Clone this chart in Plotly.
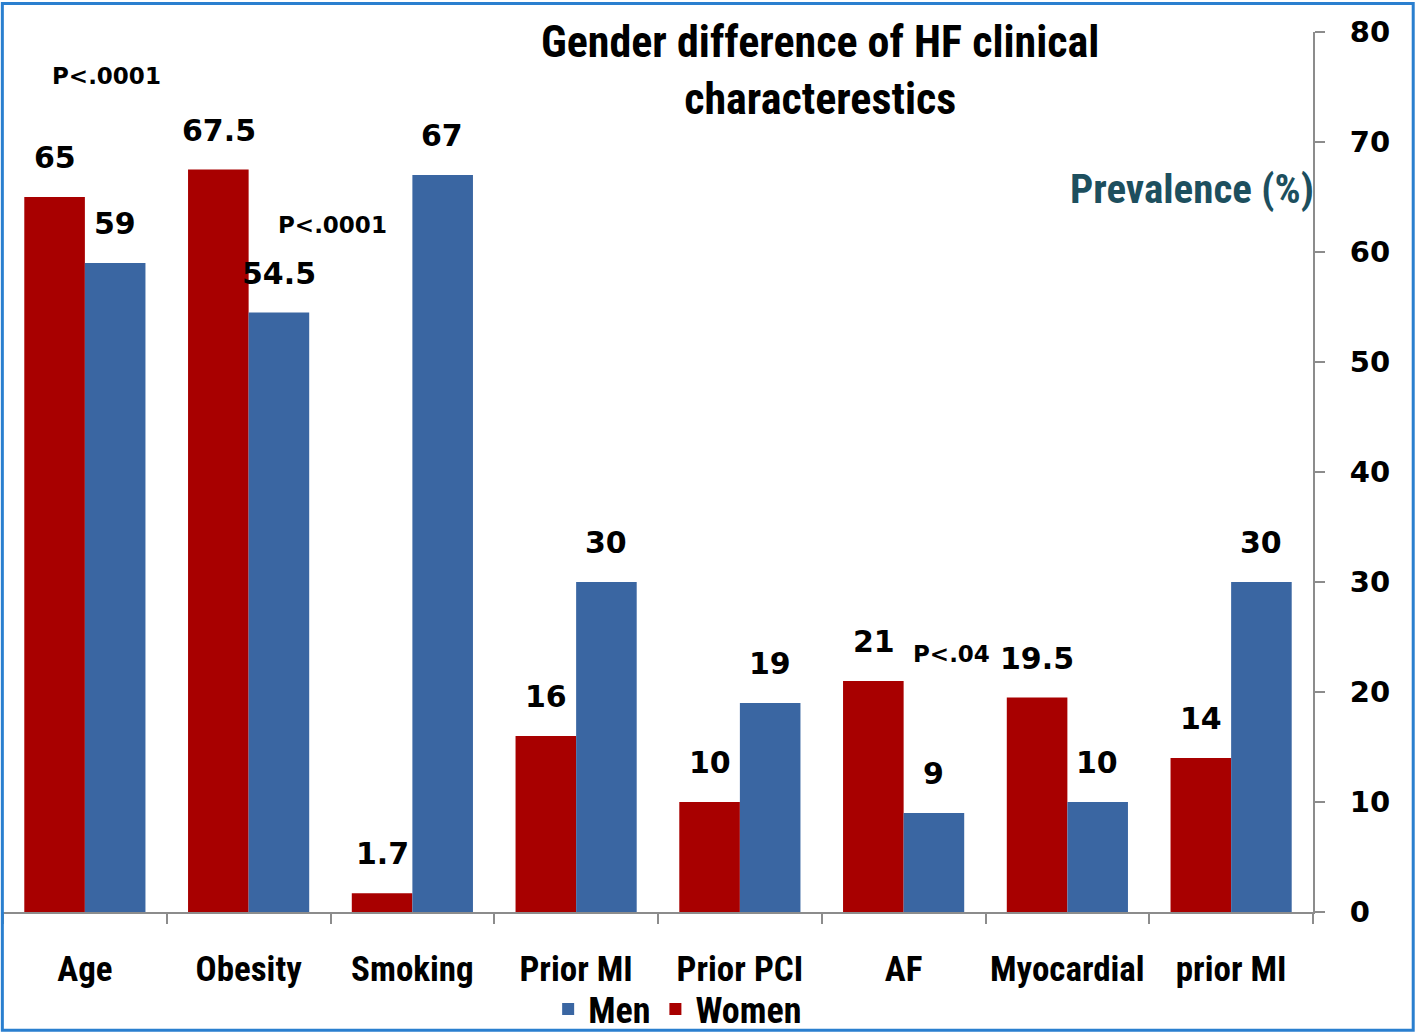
import plotly.graph_objects as go

categories = ["Age", "Obesity", "Smoking", "Prior MI", "Prior PCI", "AF", "Myocardial", "prior MI"]
women = [65, 67.5, 1.7, 16, 10, 21, 19.5, 14]
men = [59, 54.5, 67, 30, 19, 9, 10, 30]
y_ticks = [0, 10, 20, 30, 40, 50, 60, 70, 80]
p_texts = ["P<.0001", "P<.0001", "P<.04"]
p_cats = ["Age", "Obesity", "AF"]
p_vals = [76, 62.5, 23.5]
p_shifts = [22, 84, 48]

NUM_FONT = "DejaVu Sans, Verdana, sans-serif"
LBL_FONT = "Liberation Sans Narrow, Roboto Condensed, Arial Narrow, Roboto, sans-serif"

fig = go.Figure()
fig.add_trace(go.Bar(name="Women", x=categories, y=women,
                     marker=dict(color="#a80000", line=dict(width=0))))
fig.add_trace(go.Bar(name="Men", x=categories, y=men,
                     marker=dict(color="#3a66a2", line=dict(width=0))))

annotations = []
for c, w, m in zip(categories, women, men):
    annotations.append(dict(x=c, y=w, xshift=-30, yshift=20, text=f"{w:g}", showarrow=False,
                            yanchor="bottom", font=dict(family=NUM_FONT, size=30, color="black", weight="bold")))
    annotations.append(dict(x=c, y=m, xshift=30, yshift=20, text=f"{m:g}", showarrow=False,
                            yanchor="bottom", font=dict(family=NUM_FONT, size=30, color="black", weight="bold")))
for t, c, v, s in zip(p_texts, p_cats, p_vals, p_shifts):
    annotations.append(dict(x=c, y=v, xshift=s, text=t, showarrow=False,
                            font=dict(family=NUM_FONT, size=23, color="black", weight="bold")))

annotations.append(dict(xref="paper", yref="paper", x=0.624, y=0.956, yanchor="middle",
                        text="Gender difference of HF clinical<br>characterestics", showarrow=False,
                        font=dict(family=LBL_FONT, size=44, color="black", weight="bold"), align="center"))
annotations.append(dict(xref="paper", yref="paper", x=1.002, y=0.822, xanchor="right", yanchor="middle",
                        text="Prevalence (%)", showarrow=False,
                        font=dict(family=LBL_FONT, size=41, color="#1d4f5e", weight="bold")))

fig.update_layout(
    width=1418, height=1035,
    margin=dict(l=3, r=105, t=32, b=123),
    paper_bgcolor="white", plot_bgcolor="white",
    barmode="group", bargap=0.26, bargroupgap=0,
    showlegend=True,
    legend=dict(orientation="h", x=0.515, xanchor="center", yref="container", y=0.025, yanchor="middle",
                traceorder="reversed", bgcolor="rgba(0,0,0,0)",
                font=dict(family=LBL_FONT, size=36, color="black", weight="bold"),
                itemwidth=30),
    annotations=annotations,
    xaxis=dict(showline=True, linecolor="#8c8c8c", linewidth=2, ticks="outside", tickson="boundaries",
               ticklen=10, tickcolor="#8c8c8c", tickwidth=2, showgrid=False, tickangle=0, automargin=False,
               tickfont=dict(family=LBL_FONT, size=35, color="black", weight="bold"), ticklabelstandoff=25),
    yaxis=dict(side="right", range=[0, 80], tickvals=y_ticks, showline=True, linecolor="#8c8c8c",
               linewidth=2, ticks="outside", ticklen=10, tickcolor="#8c8c8c", tickwidth=2, automargin=False,
               showgrid=False, zeroline=False, ticklabelstandoff=19,
               tickfont=dict(family=NUM_FONT, size=29, color="black", weight="bold")),
    shapes=[dict(type="rect", xref="paper", yref="paper", x0=-0.0005, x1=1.0765, y0=-0.1345, y1=1.0325,
                 line=dict(color="#2a7fcf", width=3), fillcolor="rgba(0,0,0,0)", layer="above")],
)

fig.write_html("out.html", config={"displayModeBar": False},
               post_script="document.body.style.margin='0';")
